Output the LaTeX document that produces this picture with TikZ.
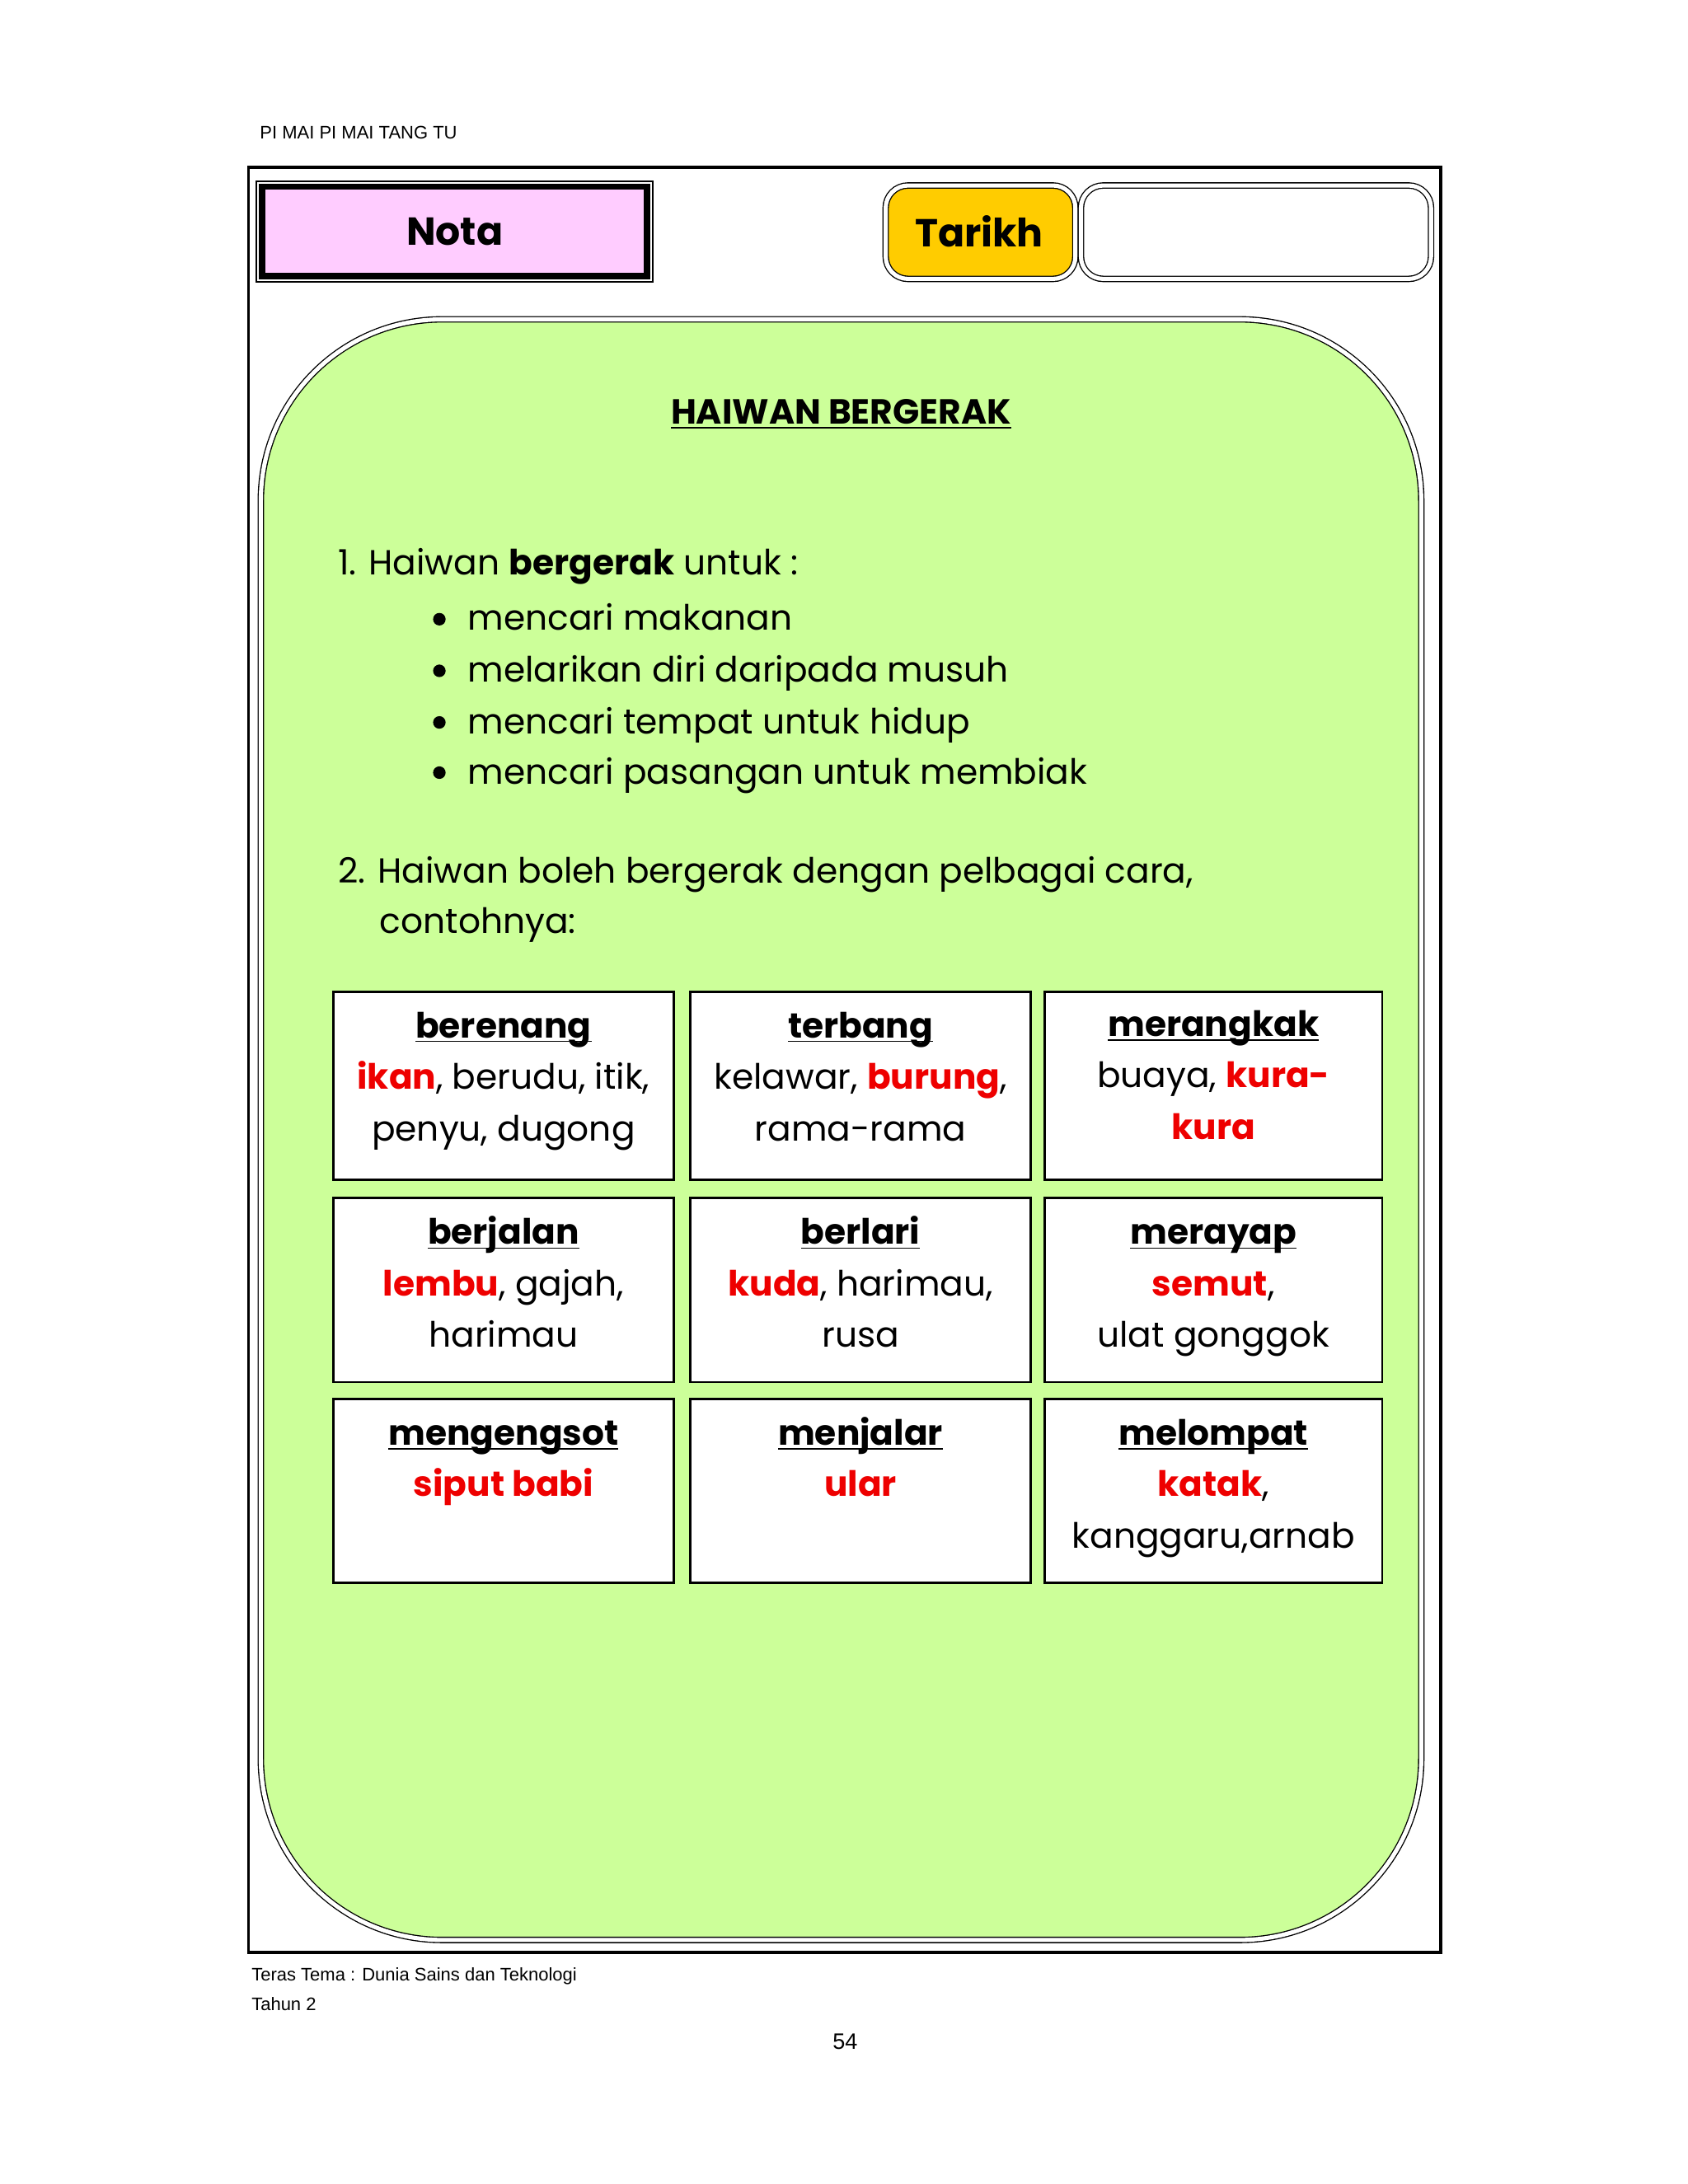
\documentclass[tikz,border=0pt]{standalone}
\usepackage{fontspec}
\setmainfont{Poppins}
\newfontfamily\hdr{Liberation Sans}
\definecolor{pinkf}{HTML}{FFCCFF}
\definecolor{goldf}{HTML}{FFCC00}
\definecolor{greenf}{HTML}{CCFF99}
\definecolor{redt}{HTML}{EE0000}
\newcommand{\rd}[1]{\textcolor{redt}{\textbf{#1}}}
\newcommand{\ul}[1]{\underline{\smash{#1}}}
\begin{document}
\begin{tikzpicture}[x=0.5pt,y=-0.5pt,
  txt/.style={anchor=west,inner sep=0,font=\fontsize{12.5}{15}\selectfont},
  cell/.style={draw,line width=0.8pt,fill=white},
  ctxt/.style={anchor=base,inner sep=0,font=\fontsize{12.5}{15}\selectfont}]
\useasboundingbox (0,0) rectangle (1210,1566);
\node[anchor=west,inner sep=0,font=\hdr\fontsize{6.5}{8}\selectfont] (hd) at (186,95) {PI MAI PI MAI TANG TU};
\draw[line width=1pt] (178,120) rectangle (1033,1400);
% Nota
\draw[line width=0.6pt] (184,130) rectangle (468,202);
\draw[line width=2.2pt,fill=pinkf] (188,134) rectangle (464,198);
\node[font=\bfseries\fontsize{14}{16}\selectfont] (nota) at (326,166) {Nota};
% Tarikh
\draw[double,double distance=1.5pt,fill=goldf,rounded corners=8pt] (635,133) rectangle (771,200);
\node[font=\bfseries\fontsize{14}{16}\selectfont] (tarikh) at (702,166) {Tarikh};
\draw[double,double distance=1.5pt,fill=white,rounded corners=8pt] (775,133) rectangle (1026,200);
% big panel
\draw[double,double distance=1.5pt,fill=greenf,rounded corners=65pt] (187,229) rectangle (1019,1391);
\node[anchor=base,inner sep=0,font=\bfseries\fontsize{12.5}{15}\selectfont] (title) at (603,304) {\ul{HAIWAN BERGERAK}};
\node[txt] (i1) at (242,406) {1. Haiwan \textbf{bergerak} untuk :};
\foreach \y/\t [count=\i] in {443/mencari makanan,480/melarikan diri daripada musuh,517/mencari tempat untuk hidup,553/mencari pasangan untuk membiak}{
  \fill (315,\y+1) circle (4.5);
  \node[txt,anchor=base west] (b\i) at (335,\y+9) {\t};
}
\node[txt] (i2) at (242,627) {2. Haiwan boleh bergerak dengan pelbagai cara,};
\node[txt] (i2b) at (272,663) {contohnya:};
% cells
\foreach \x/\X in {239/483,495/739,749/991}{
  \foreach \y/\Y in {711/846,859/991,1003/1135}{
    \draw[cell] (\x,\y) rectangle (\X,\Y);
  }
}
\newcommand{\cellt}[5]{%
  \node[ctxt] at (#1,#2+33) {\textbf{\ul{#3}}};
  \node[ctxt] at (#1,#2+70) {#4};
  \node[ctxt] at (#1,#2+107) {#5};}
\cellt{361}{711}{berenang}{\rd{ikan}, berudu, itik,}{penyu, dugong}
\cellt{617}{711}{terbang}{kelawar, \rd{burung},}{rama-rama}
\cellt{870}{710}{merangkak}{buaya, \rd{kura-}}{\rd{kura}}
\cellt{361}{859}{berjalan}{\rd{lembu}, gajah,}{harimau}
\cellt{617}{859}{berlari}{\rd{kuda}, harimau,}{rusa}
\cellt{870}{859}{merayap}{\rd{semut},}{ulat gonggok}
\cellt{361}{1003}{mengengsot}{\rd{siput babi}}{}
\cellt{617}{1003}{menjalar}{\rd{ular}}{}
\cellt{870}{1003}{melompat}{\rd{katak},}{kanggaru,arnab}
% footer
\node[anchor=west,inner sep=0,font=\hdr\fontsize{6.5}{8}\selectfont] (f1) at (180,1417) {Teras Tema : Dunia Sains dan Teknologi};
\node[anchor=west,inner sep=0,font=\hdr\fontsize{6.5}{8}\selectfont] (f2) at (180,1437) {Tahun 2};
\node[inner sep=0,font=\hdr\fontsize{8}{10}\selectfont] (pg) at (606,1464) {54};
\end{tikzpicture}
\end{document}
